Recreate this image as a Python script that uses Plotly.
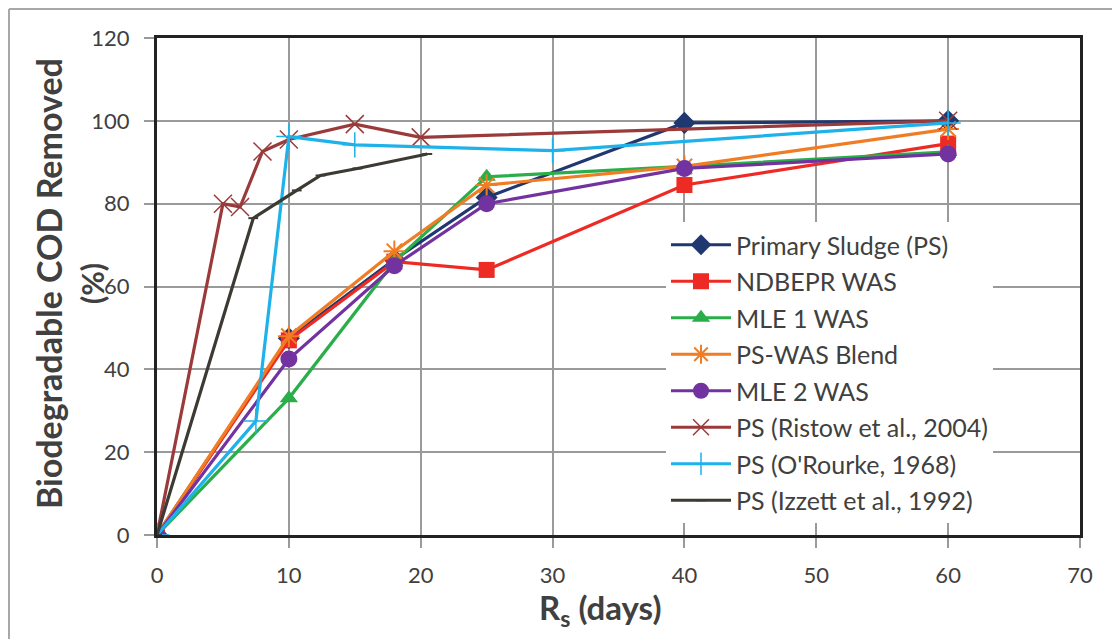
import plotly.graph_objects as go

# ---------------- data ----------------
ps_x = [0, 10, 18, 25, 40, 60]
ps_y = [0, 47.5, 66.5, 81.5, 99.5, 100]

ndbepr_x = [0, 10, 18, 25, 40, 60]
ndbepr_y = [0, 47, 66, 64, 84.5, 94.5]

mle1_x = [0, 10, 18, 25, 40, 60]
mle1_y = [0, 33, 66, 86.5, 89, 92.5]

blend_x = [0, 10, 18, 25, 40, 60]
blend_y = [0, 48, 68.5, 84.5, 89, 98]

mle2_x = [0, 10, 18, 25, 40, 60]
mle2_y = [0, 42.5, 65, 80, 88.5, 92]

ristow_x = [0, 5, 6.3, 8, 10, 15, 20, 60]
ristow_y = [0, 80, 79.2, 92.6, 95.5, 99.2, 96, 100]

orourke_x = [0, 7.5, 10, 15, 30, 60]
orourke_y = [0, 27.5, 96.2, 94.2, 92.8, 99.5]

izzett_x = [0, 7.3, 10.6, 12.4, 15.2, 20.5]
izzett_y = [0, 76.5, 83.2, 86.8, 88.5, 92]

x_ticks = [0, 10, 20, 30, 40, 50, 60, 70]
y_ticks = [0, 20, 40, 60, 80, 100, 120]

FONT = "Lato"

series = [
    ("Primary Sludge (PS)", ps_x, ps_y, "#1f3870", dict(symbol="diamond", size=17)),
    ("NDBEPR WAS", ndbepr_x, ndbepr_y, "#ee2a24", dict(symbol="square", size=16)),
    ("MLE 1 WAS", mle1_x, mle1_y, "#2aae4a", dict(symbol="triangle-up", size=16)),
    ("PS-WAS Blend", blend_x, blend_y, "#f07d24", dict(symbol="asterisk-open", size=18, line=dict(width=2))),
    ("MLE 2 WAS", mle2_x, mle2_y, "#7232a0", dict(symbol="circle", size=17)),
    ("PS (Ristow et al., 2004)", ristow_x, ristow_y, "#9b3a3a", dict(symbol="x-thin-open", size=18, line=dict(width=1.5))),
    ("PS (O'Rourke, 1968)", orourke_x, orourke_y, "#1eb2ea", dict(symbol="cross-thin-open", size=18, line=dict(width=1.5))),
    ("PS (Izzett et al., 1992)", izzett_x, izzett_y, "#3c3a32", dict(symbol="line-ew-open", size=7, line=dict(width=2))),
]

fig = go.Figure()
for i, (name, xs, ys, col, mk) in enumerate(series):
    m = dict(color=col)
    m.update(mk)
    if "line" in m:
        m["line"] = dict(color=col, width=m["line"]["width"])
    fig.add_trace(go.Scatter(
        x=xs, y=ys, name=name, mode="lines+markers",
        line=dict(color=col, width=3.2), marker=m,
        legendgroup=f"g{i}",
    ))

# plot area geometry (px)
L, R, T, B = 157, 32, 38, 104
W = 1112 - L - R
H = 639 - T - B

def px_x(p):
    return (p - L) / W

def px_y(p):
    return (639 - B - p) / H

fig.update_layout(
    width=1112, height=639,
    margin=dict(l=L, r=R, t=T, b=B, autoexpand=False),
    paper_bgcolor="white", plot_bgcolor="white",
    font=dict(family=FONT, color="#404040"),
    showlegend=True,
    legend=dict(
        x=px_x(666), y=px_y(222), xanchor="left", yanchor="top",
        bgcolor="white", borderwidth=0,
        font=dict(size=25, color="#404040", family=FONT),
        tracegroupgap=1, traceorder="grouped",
        itemwidth=60,
    ),
    xaxis=dict(
        range=[0, 70], tickvals=x_ticks, ticktext=[str(v) for v in x_ticks],
        showgrid=True, gridcolor="#9a9a9a", gridwidth=1.5,
        showline=True, linecolor="#222222", linewidth=3, mirror=True,
        ticks="outside", ticklen=10, tickcolor="#9a9a9a", tickwidth=1.5,
        tickfont=dict(size=22, family=FONT, color="#404040"),
        ticklabelstandoff=9,
        zeroline=False, automargin=False,
    ),
    yaxis=dict(
        range=[0, 120], tickvals=y_ticks, ticktext=[str(v) for v in y_ticks],
        showgrid=True, gridcolor="#9a9a9a", gridwidth=1.5,
        showline=True, linecolor="#222222", linewidth=3, mirror=True,
        ticks="outside", ticklen=10, tickcolor="#9a9a9a", tickwidth=1.5,
        tickfont=dict(size=22, family=FONT, color="#404040"),
        ticklabelstandoff=10,
        zeroline=False, automargin=False,
    ),
    annotations=[
        dict(text="<b>Biodegradable COD Removed</b>", xref="paper", yref="paper",
             x=px_x(48), y=px_y(284), textangle=-90, showarrow=False,
             xanchor="center", yanchor="middle",
             font=dict(size=34, family=FONT, color="#404040")),
        dict(text="<b>(%)</b>", xref="paper", yref="paper",
             x=px_x(92), y=px_y(284), textangle=-90, showarrow=False,
             xanchor="center", yanchor="middle",
             font=dict(size=30, family=FONT, color="#404040")),
        dict(text="<b>R<sub>s</sub> (days)</b>", xref="paper", yref="paper",
             x=px_x(600), y=px_y(609), showarrow=False,
             xanchor="center", yanchor="middle",
             font=dict(size=33, family=FONT, color="#404040")),
    ],
    shapes=[
        dict(type="line", xref="paper", yref="paper",
             x0=px_x(9), x1=px_x(9), y0=px_y(9), y1=px_y(650),
             line=dict(color="#a8a8a8", width=2)),
        dict(type="line", xref="paper", yref="paper",
             x0=px_x(9), x1=px_x(1120), y0=px_y(9), y1=px_y(9),
             line=dict(color="#a8a8a8", width=2)),
    ],
)

fig.write_html(
    "out.html",
    config={"displayModeBar": False},
    post_script="document.body.style.margin='0';document.body.style.overflow='hidden';",
)
